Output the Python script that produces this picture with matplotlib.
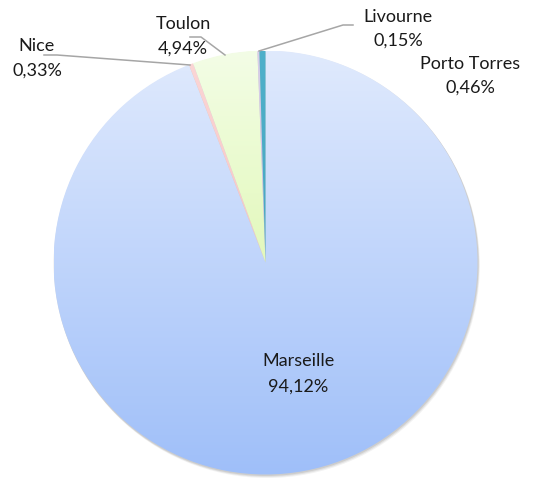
import numpy as np
import matplotlib.pyplot as plt
from matplotlib.colors import LinearSegmentedColormap

# ports and their share of traffic (clockwise from 12 o'clock)
ports = ["Marseille", "Nice", "Toulon", "Livourne", "Porto Torres"]
shares = [94.12, 0.33, 4.94, 0.15, 0.46]
share_labels = ["94,12%", "0,33%", "4,94%", "0,15%", "0,46%"]

# gradient colours per slice (top of pie -> bottom of pie)
grad_top = ["#e0eafd", "#fbd6d6", "#f3fde6", "#d9cfea", "#4eb0ca"]
grad_bot = ["#9fbff9", "#f4b4b4", "#d2f490", "#b9a8d8", "#3f9fbb"]

W, H = 552, 481
fig = plt.figure(figsize=(W / 100, H / 100), dpi=100)
ax = fig.add_axes([0, 0, 1, 1])

cx, cy, r = 265.5, H - 263.5, 212

# soft shadow down/right
for k, a in [(3.0, 0.10), (2.0, 0.15), (1.0, 0.2)]:
    ax.add_patch(plt.Circle((cx + k * 0.6, cy - k), r + 0.5, color="#808080",
                            alpha=a, lw=0, zorder=0))

wedges, _ = ax.pie(shares, startangle=90, counterclock=False, center=(cx, cy),
                   radius=r, colors=grad_bot, frame=True,
                   wedgeprops=dict(linewidth=0))

ramp = np.linspace(0, 1, 256).reshape(-1, 1)
for w, ct, cb in zip(wedges, grad_top, grad_bot):
    cmap = LinearSegmentedColormap.from_list("g", [ct, cb])
    im = ax.imshow(ramp, cmap=cmap, extent=(cx - r, cx + r, cy - r, cy + r),
                   origin="upper", aspect="auto", zorder=2,
                   interpolation="bilinear")
    im.set_clip_path(w)
    w.set_facecolor("none")

ax.set_xlim(0, W)
ax.set_ylim(0, H)
ax.set_aspect("auto")
ax.axis("off")

def fy(y):
    return H - y

font = dict(family="Lato", fontsize=13, color="#1a1a1a", ha="center", va="center")

# labels (name over share), positions in pixels from top-left
lab_pos = {
    "Marseille": (298, 361, 387),
    "Nice": (37, 46, 71),
    "Toulon": (183, 24, 49),
    "Livourne": (398, 17, 41),
    "Porto Torres": (470, 64, 88),
}
for name, val in zip(ports, share_labels):
    x, y1, y2 = lab_pos[name]
    ax.text(x, fy(y1), name, **font)
    ax.text(x, fy(y2), val, **font)

# leader lines
lines = [
    [(44, 56), (57, 56), (190, 66)],
    [(190, 38), (201, 38), (225, 56)],
    [(259, 52), (343, 26), (353, 26)],
]
for pts in lines:
    xs = [p[0] for p in pts]
    ys = [fy(p[1]) for p in pts]
    ax.plot(xs, ys, color="#a6a6a6", lw=1.1, zorder=3)

fig.savefig("out.png", dpi=100)
